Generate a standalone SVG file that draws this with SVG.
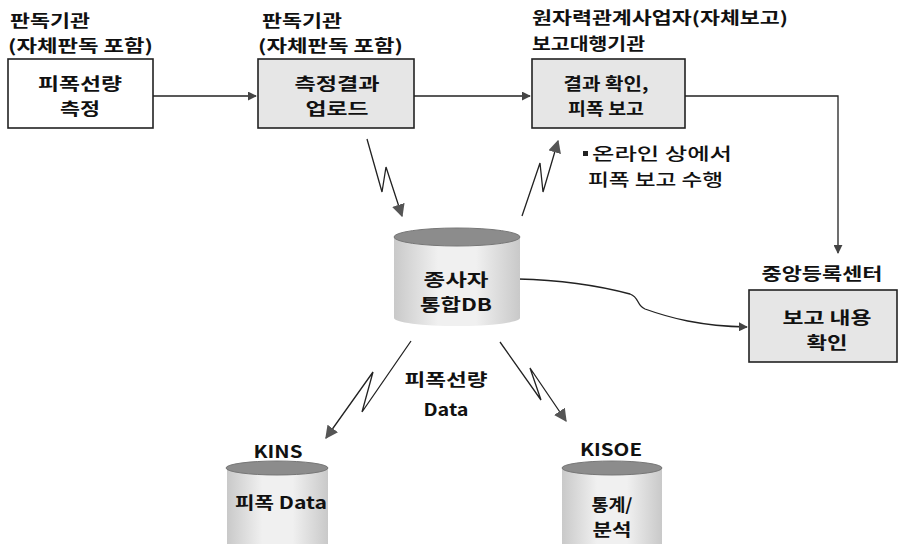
<svg xmlns="http://www.w3.org/2000/svg" width="903" height="544" viewBox="0 0 903 544">
<defs>
<style>
text{font-family:"Noto Sans CJK KR","Noto Sans",sans-serif;font-weight:700;fill:#111;font-size:17px}
.c{text-anchor:middle}
.n{font-weight:500}
.box{stroke:#222;stroke-width:1.6}
.g{fill:#e6e6e6}
.w{fill:#fff}
.ln{fill:none;stroke:#222;stroke-width:1.3}
.top{fill:#8c8c8c;stroke:#777;stroke-width:1}
</style>
<linearGradient id="cyl" x1="0" x2="1" y1="0" y2="0">
<stop offset="0" stop-color="#c9c9c9"/>
<stop offset="0.35" stop-color="#f0f0f0"/>
<stop offset="0.65" stop-color="#f0f0f0"/>
<stop offset="1" stop-color="#c9c9c9"/>
</linearGradient>
<marker id="ah" viewBox="0 0 10 10" refX="9" refY="5" markerWidth="9" markerHeight="9" markerUnits="userSpaceOnUse" orient="auto">
<path d="M0,0 L10,5 L0,10 Z" fill="#444"/>
</marker>
<marker id="ahb" viewBox="0 0 10 10" refX="9" refY="5" markerWidth="13" markerHeight="13" markerUnits="userSpaceOnUse" orient="auto">
<path d="M0,0 L10,5 L0,10 Z" fill="#555"/>
</marker>
</defs>

<g id="connectors">
<path class="ln" d="M153,96 H256" marker-end="url(#ah)"/>
<path class="ln" d="M414,96 H530" marker-end="url(#ah)"/>
<path class="ln" d="M685,96 H838 V253" marker-end="url(#ah)"/>
<path class="ln" d="M518,279 C560,280 600,286 630,294 C640,298 636,305 645,309 C670,318 700,326 747,327" marker-end="url(#ah)"/>
<path class="ln" d="M367,139 L382,192 L386,167 L402,216" marker-end="url(#ahb)"/>
<path class="ln" d="M522,216 L540,163 L543,192 L558,141" marker-end="url(#ahb)"/>
<path class="ln" d="M411,341 L362,412 L373,372 L326,438" marker-end="url(#ahb)"/>
<path class="ln" d="M500,342 L541,400 L530,368 L566,421" marker-end="url(#ahb)"/>
</g>

<g id="n1">
<text x="10" y="26.5" textLength="80" lengthAdjust="spacingAndGlyphs">판독기관</text>
<text x="8" y="51.5" textLength="145" lengthAdjust="spacingAndGlyphs">(자체판독 포함)</text>
<rect class="box w" x="8" y="59" width="145" height="69"/>
<text class="c" x="80" y="90" textLength="84" lengthAdjust="spacingAndGlyphs">피폭선량</text>
<text class="c" x="80" y="115" textLength="40" lengthAdjust="spacingAndGlyphs">측정</text>
</g>

<g id="n2">
<text x="262" y="26.5" textLength="80" lengthAdjust="spacingAndGlyphs">판독기관</text>
<text x="258" y="51.5" textLength="145" lengthAdjust="spacingAndGlyphs">(자체판독 포함)</text>
<rect class="box g" x="258" y="59" width="156" height="69"/>
<text class="c" x="337" y="90" textLength="85" lengthAdjust="spacingAndGlyphs">측정결과</text>
<text class="c" x="337" y="115" textLength="63" lengthAdjust="spacingAndGlyphs">업로드</text>
</g>

<g id="n3">
<text x="532" y="24" textLength="256" lengthAdjust="spacingAndGlyphs">원자력관계사업자(자체보고)</text>
<text x="532" y="50" textLength="113" lengthAdjust="spacingAndGlyphs">보고대행기관</text>
<rect class="box g" x="532" y="59" width="153" height="69"/>
<text class="c" x="606" y="90" textLength="85" lengthAdjust="spacingAndGlyphs">결과 확인,</text>
<text class="c" x="606" y="115" textLength="76" lengthAdjust="spacingAndGlyphs">피폭 보고</text>
</g>

<g id="note">
<rect x="583" y="151" width="5" height="5" fill="#222"/>
<text class="n" x="592" y="160" textLength="140" lengthAdjust="spacingAndGlyphs">온라인 상에서</text>
<text class="n" x="588" y="186" textLength="135" lengthAdjust="spacingAndGlyphs">피폭 보고 수행</text>
</g>

<g id="n4">
<text class="c" x="822" y="280" textLength="121" lengthAdjust="spacingAndGlyphs">중앙등록센터</text>
<rect class="box g" x="749" y="290" width="148" height="72"/>
<text class="c" x="827" y="323.5" textLength="89" lengthAdjust="spacingAndGlyphs">보고 내용</text>
<text class="c" x="827" y="348.5" textLength="41" lengthAdjust="spacingAndGlyphs">확인</text>
</g>

<g id="db">
<path d="M394,237 V318 A63,8 0 0 0 520,318 V237 Z" fill="url(#cyl)"/>
<ellipse class="top" cx="457" cy="237" rx="63" ry="9"/>
<text class="c" x="456" y="286" font-size="16.5" textLength="65" lengthAdjust="spacingAndGlyphs">종사자</text>
<text class="c" x="456" y="310.5" font-size="16.5" textLength="72" lengthAdjust="spacingAndGlyphs">통합DB</text>
</g>

<g id="label-data">
<text class="c" x="446" y="386" textLength="83" lengthAdjust="spacingAndGlyphs">피폭선량</text>
<text class="c" x="446" y="416" textLength="45" lengthAdjust="spacingAndGlyphs">Data</text>
</g>

<g id="kins">
<text class="c" x="278" y="458" textLength="49" lengthAdjust="spacingAndGlyphs">KINS</text>
<path d="M227,468 V548 H328 V468 Z" fill="url(#cyl)"/>
<ellipse class="top" cx="277" cy="468" rx="51" ry="7"/>
<text class="c" x="281" y="509" textLength="92" lengthAdjust="spacingAndGlyphs">피폭 Data</text>
</g>

<g id="kisoe">
<text class="c" x="611" y="456" textLength="62" lengthAdjust="spacingAndGlyphs">KISOE</text>
<path d="M562,468 V548 H662 V468 Z" fill="url(#cyl)"/>
<ellipse class="top" cx="612" cy="468" rx="50" ry="7"/>
<text class="c" x="612" y="511" textLength="41" lengthAdjust="spacingAndGlyphs">통계/</text>
<text class="c" x="612" y="536" textLength="39" lengthAdjust="spacingAndGlyphs">분석</text>
</g>
</svg>
